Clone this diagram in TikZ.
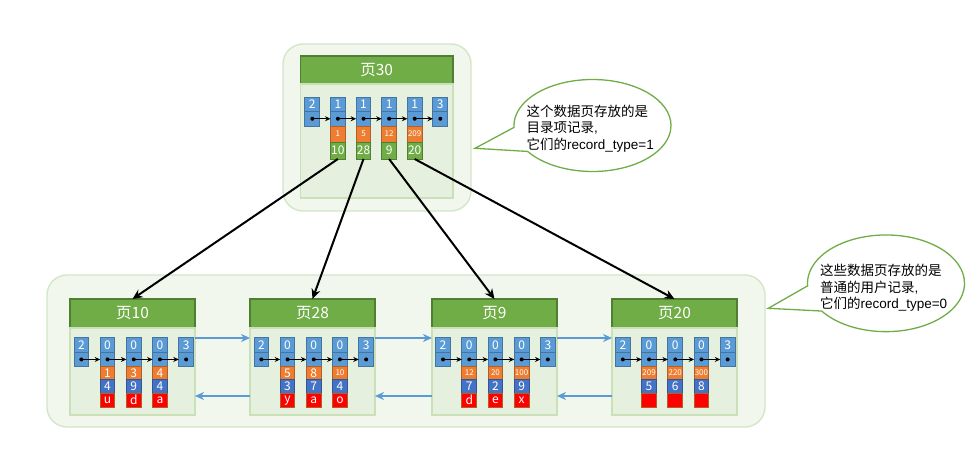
\documentclass[tikz,border=0pt]{standalone}
\usepackage{fontspec}
\setmainfont{Liberation Sans}
\newfontfamily\cjk{Noto Sans CJK SC}
\usetikzlibrary{positioning, arrows.meta, shapes.callouts}
\definecolor{cellblue}{HTML}{5B9BD5}
\definecolor{celldeep}{HTML}{4472C4}
\definecolor{cellorange}{HTML}{ED7D31}
\definecolor{cellgreen}{HTML}{70AD47}
\definecolor{edgegreen}{HTML}{507E32}
\tikzset{
outerbox/.style={draw=cellgreen!30, fill=cellgreen!10, line width=1.4pt, rounded corners=20pt, outer sep=0pt}, % the big rounded groups
pagehead/.style={draw=edgegreen, fill=cellgreen, line width=1.2pt, text=white, outer sep=0pt, inner sep=0pt, font=\cjk\fontsize{15.5}{15.5}\selectfont},
pagebody/.style={draw=cellgreen!38, fill=cellgreen!18, line width=1.2pt, outer sep=0pt, inner sep=0pt},
cell/.style={line width=1pt, text=white, outer sep=0pt, inner sep=0pt, minimum width=14.7pt, font=\cjk\fontsize{12}{12}\selectfont},
topcell/.style={cell, draw=cellblue!75!black, fill=cellblue, minimum height=14.5pt},
ptrcell/.style={topcell, path picture={\fill[black] (path picture bounding box.center) circle (2pt);}}, % holds the dot
keycell/.style={cell, draw=cellorange!75!black, fill=cellorange, minimum height=12.6pt},
colcell/.style={cell, draw=celldeep!75!black, fill=celldeep, minimum height=14pt},
redcell/.style={cell, draw=cellorange!75!black, fill=red, minimum height=13.7pt},
numcell/.style={cell, draw=edgegreen, fill=cellgreen, minimum height=17pt},
tiny/.style={font=\cjk\fontsize{8}{8}\selectfont},
link/.style={-{Stealth[length=5.5pt,width=5pt]}, line width=1pt, black},
down/.style={-{Stealth[length=10pt,width=9pt]}, line width=2pt, black},
side/.style={-{Stealth[length=9pt,width=8pt]}, line width=1.8pt, cellblue},
bubble/.style={ellipse callout, draw=cellgreen, fill=white, line width=1.3pt, callout pointer arc=32, minimum width=157pt, inner sep=0pt},
bubbletext/.style={align=left, inner sep=0pt, font=\fontsize{13.5}{16.5}\selectfont},
}
\begin{document}
\begin{tikzpicture}[x=1pt, y=1pt, node distance={26.2pt}]
    \useasboundingbox (0,0) rectangle (977,-460);

    % groups
    \node[outerbox, minimum width=188pt, minimum height=167pt] (box30) at (377,-127.5) {};
    \node[outerbox, minimum width=718pt, minimum height=152pt] (boxleaf) at (406,-351) {};

    % page 30
    \node[pagehead, minimum width=152.5pt, minimum height=28pt] (hd30) at (376.7,-70) {页30};
    \node[pagebody, minimum width=152.5pt, minimum height=114pt, below=0pt of hd30] (bd30) {};
    \begin{scope}[node distance={25.6pt}]
    \node[topcell, below right=13pt and 4.5pt of bd30.north west] (30u1) {2};
    \node[ptrcell, below=0pt of 30u1] (30p1) {};
    \node[topcell, right of=30u1] (30u2) {1};
    \node[ptrcell, below=0pt of 30u2] (30p2) {};
    \node[keycell, minimum height=16pt, tiny, below=0pt of 30p2] (30k2) {1};
    \node[numcell, below=0pt of 30k2] (30g2) {10};
    \node[topcell, right of=30u2] (30u3) {1};
    \node[ptrcell, below=0pt of 30u3] (30p3) {};
    \node[keycell, minimum height=16pt, tiny, below=0pt of 30p3] (30k3) {5};
    \node[numcell, below=0pt of 30k3] (30g3) {28};
    \node[topcell, right of=30u3] (30u4) {1};
    \node[ptrcell, below=0pt of 30u4] (30p4) {};
    \node[keycell, minimum height=16pt, tiny, below=0pt of 30p4] (30k4) {12};
    \node[numcell, below=0pt of 30k4] (30g4) {9};
    \node[topcell, right of=30u4] (30u5) {1};
    \node[ptrcell, below=0pt of 30u5] (30p5) {};
    \node[keycell, minimum height=16pt, tiny, below=0pt of 30p5] (30k5) {209};
    \node[numcell, below=0pt of 30k5] (30g5) {20};
    \node[topcell, right of=30u5] (30u6) {3};
    \node[ptrcell, below=0pt of 30u6] (30p6) {};
    \end{scope}
    \draw[link] (30p1.center) -- (30p2.west);
    \draw[link] (30p2.center) -- (30p3.west);
    \draw[link] (30p3.center) -- (30p4.west);
    \draw[link] (30p4.center) -- (30p5.west);
    \draw[link] (30p5.center) -- (30p6.west);

    % page 10
    \node[pagehead, minimum width=125pt, minimum height=29pt] (hd10) at (132.5,-313.5) {页10};
    \node[pagebody, minimum width=125pt, minimum height=87pt, below=0pt of hd10] (bd10) {};
    \node[topcell, below right=9.7pt and 4pt of bd10.north west] (10u1) {2};
    \node[ptrcell, below=0pt of 10u1] (10p1) {};
    \node[topcell, right of=10u1] (10u2) {0};
    \node[ptrcell, below=0pt of 10u2] (10p2) {};
    \node[keycell, below=0pt of 10p2] (10k2) {1};
    \node[colcell, below=0pt of 10k2] (10c2) {4};
    \node[redcell, below=0pt of 10c2] (10r2) {u};
    \node[topcell, right of=10u2] (10u3) {0};
    \node[ptrcell, below=0pt of 10u3] (10p3) {};
    \node[keycell, below=0pt of 10p3] (10k3) {3};
    \node[colcell, below=0pt of 10k3] (10c3) {9};
    \node[redcell, below=0pt of 10c3] (10r3) {d};
    \node[topcell, right of=10u3] (10u4) {0};
    \node[ptrcell, below=0pt of 10u4] (10p4) {};
    \node[keycell, below=0pt of 10p4] (10k4) {4};
    \node[colcell, below=0pt of 10k4] (10c4) {4};
    \node[redcell, below=0pt of 10c4] (10r4) {a};
    \node[topcell, right of=10u4] (10u5) {3};
    \node[ptrcell, below=0pt of 10u5] (10p5) {};
    \draw[link] (10p1.center) -- (10p2.west);
    \draw[link] (10p2.center) -- (10p3.west);
    \draw[link] (10p3.center) -- (10p4.west);
    \draw[link] (10p4.center) -- (10p5.west);

    % page 28
    \node[pagehead, minimum width=125pt, minimum height=29pt] (hd28) at (312.5,-313.5) {页28};
    \node[pagebody, minimum width=125pt, minimum height=87pt, below=0pt of hd28] (bd28) {};
    \node[topcell, below right=9.7pt and 4pt of bd28.north west] (28u1) {2};
    \node[ptrcell, below=0pt of 28u1] (28p1) {};
    \node[topcell, right of=28u1] (28u2) {0};
    \node[ptrcell, below=0pt of 28u2] (28p2) {};
    \node[keycell, below=0pt of 28p2] (28k2) {5};
    \node[colcell, below=0pt of 28k2] (28c2) {3};
    \node[redcell, below=0pt of 28c2] (28r2) {y};
    \node[topcell, right of=28u2] (28u3) {0};
    \node[ptrcell, below=0pt of 28u3] (28p3) {};
    \node[keycell, below=0pt of 28p3] (28k3) {8};
    \node[colcell, below=0pt of 28k3] (28c3) {7};
    \node[redcell, below=0pt of 28c3] (28r3) {a};
    \node[topcell, right of=28u3] (28u4) {0};
    \node[ptrcell, below=0pt of 28u4] (28p4) {};
    \node[keycell, tiny, below=0pt of 28p4] (28k4) {10};
    \node[colcell, below=0pt of 28k4] (28c4) {4};
    \node[redcell, below=0pt of 28c4] (28r4) {o};
    \node[topcell, right of=28u4] (28u5) {3};
    \node[ptrcell, below=0pt of 28u5] (28p5) {};
    \draw[link] (28p1.center) -- (28p2.west);
    \draw[link] (28p2.center) -- (28p3.west);
    \draw[link] (28p3.center) -- (28p4.west);
    \draw[link] (28p4.center) -- (28p5.west);

    % page 9
    \node[pagehead, minimum width=125pt, minimum height=29pt] (hd9) at (494.5,-313.5) {页9};
    \node[pagebody, minimum width=125pt, minimum height=87pt, below=0pt of hd9] (bd9) {};
    \node[topcell, below right=9.7pt and 3.7pt of bd9.north west] (9u1) {2};
    \node[ptrcell, below=0pt of 9u1] (9p1) {};
    \node[topcell, right of=9u1] (9u2) {0};
    \node[ptrcell, below=0pt of 9u2] (9p2) {};
    \node[keycell, tiny, below=0pt of 9p2] (9k2) {12};
    \node[colcell, below=0pt of 9k2] (9c2) {7};
    \node[redcell, below=0pt of 9c2] (9r2) {d};
    \node[topcell, right of=9u2] (9u3) {0};
    \node[ptrcell, below=0pt of 9u3] (9p3) {};
    \node[keycell, tiny, below=0pt of 9p3] (9k3) {20};
    \node[colcell, below=0pt of 9k3] (9c3) {2};
    \node[redcell, below=0pt of 9c3] (9r3) {e};
    \node[topcell, right of=9u3] (9u4) {0};
    \node[ptrcell, below=0pt of 9u4] (9p4) {};
    \node[keycell, tiny, below=0pt of 9p4] (9k4) {100};
    \node[colcell, below=0pt of 9k4] (9c4) {9};
    \node[redcell, below=0pt of 9c4] (9r4) {x};
    \node[topcell, right of=9u4] (9u5) {3};
    \node[ptrcell, below=0pt of 9u5] (9p5) {};
    \draw[link] (9p1.center) -- (9p2.west);
    \draw[link] (9p2.center) -- (9p3.west);
    \draw[link] (9p3.center) -- (9p4.west);
    \draw[link] (9p4.center) -- (9p5.west);

    % page 20
    \node[pagehead, minimum width=125pt, minimum height=29pt] (hd20) at (674.5,-313.5) {页20};
    \node[pagebody, minimum width=125pt, minimum height=87pt, below=0pt of hd20] (bd20) {};
    \node[topcell, below right=9.7pt and 3.5pt of bd20.north west] (20u1) {2};
    \node[ptrcell, below=0pt of 20u1] (20p1) {};
    \node[topcell, right of=20u1] (20u2) {0};
    \node[ptrcell, below=0pt of 20u2] (20p2) {};
    \node[keycell, tiny, below=0pt of 20p2] (20k2) {209};
    \node[colcell, below=0pt of 20k2] (20c2) {5};
    \node[redcell, below=0pt of 20c2] (20r2) {};
    \node[topcell, right of=20u2] (20u3) {0};
    \node[ptrcell, below=0pt of 20u3] (20p3) {};
    \node[keycell, tiny, below=0pt of 20p3] (20k3) {220};
    \node[colcell, below=0pt of 20k3] (20c3) {6};
    \node[redcell, below=0pt of 20c3] (20r3) {};
    \node[topcell, right of=20u3] (20u4) {0};
    \node[ptrcell, below=0pt of 20u4] (20p4) {};
    \node[keycell, tiny, below=0pt of 20p4] (20k4) {300};
    \node[colcell, below=0pt of 20k4] (20c4) {8};
    \node[redcell, below=0pt of 20c4] (20r4) {};
    \node[topcell, right of=20u4] (20u5) {3};
    \node[ptrcell, below=0pt of 20u5] (20p5) {};
    \draw[link] (20p1.center) -- (20p2.west);
    \draw[link] (20p2.center) -- (20p3.west);
    \draw[link] (20p3.center) -- (20p4.west);
    \draw[link] (20p4.center) -- (20p5.west);

    % directory to leaf pages
    \draw[down] (30g2.south) -- (hd10.north);
    \draw[down] (30g3.south) -- (hd28.north);
    \draw[down] (30g4.south) -- (hd9.north);
    \draw[down] (30g5.south) -- (hd20.north);

    % sibling links
    \draw[side] ([yshift=33.5pt]bd10.east) -- ([yshift=33.5pt]bd28.west);
    \draw[side] ([yshift=33.5pt]bd28.east) -- ([yshift=33.5pt]bd9.west);
    \draw[side] ([yshift=33.5pt]bd9.east) -- ([yshift=33.5pt]bd20.west);
    \draw[side] ([yshift=-24.5pt]bd28.west) -- ([yshift=-24.5pt]bd10.east);
    \draw[side] ([yshift=-24.5pt]bd9.west) -- ([yshift=-24.5pt]bd28.east);
    \draw[side] ([yshift=-24.5pt]bd20.west) -- ([yshift=-24.5pt]bd9.east);

    % notes
    \node[bubble, minimum height=92pt, callout absolute pointer={(475,-148.3)}] (note30) at (592.5,-125.5) {};
    \node[bubbletext, text width=131.6pt, yshift=-3pt] (text30) at (note30.center) {{\cjk 这个数据页存放的是}\\{\cjk 目录项记录},\\{\cjk 它们的}record\_type=1};
    \node[bubble, minimum height=96.7pt, callout absolute pointer={(768.3,-308.3)}] (note20) at (886,-283.3) {};
    \node[bubbletext, text width=132pt, yshift=-4.7pt] (text20) at (note20.center) {{\cjk 这些数据页存放的是}\\{\cjk 普通的用户记录},\\{\cjk 它们的}record\_type=0};
\end{tikzpicture}
\end{document}
